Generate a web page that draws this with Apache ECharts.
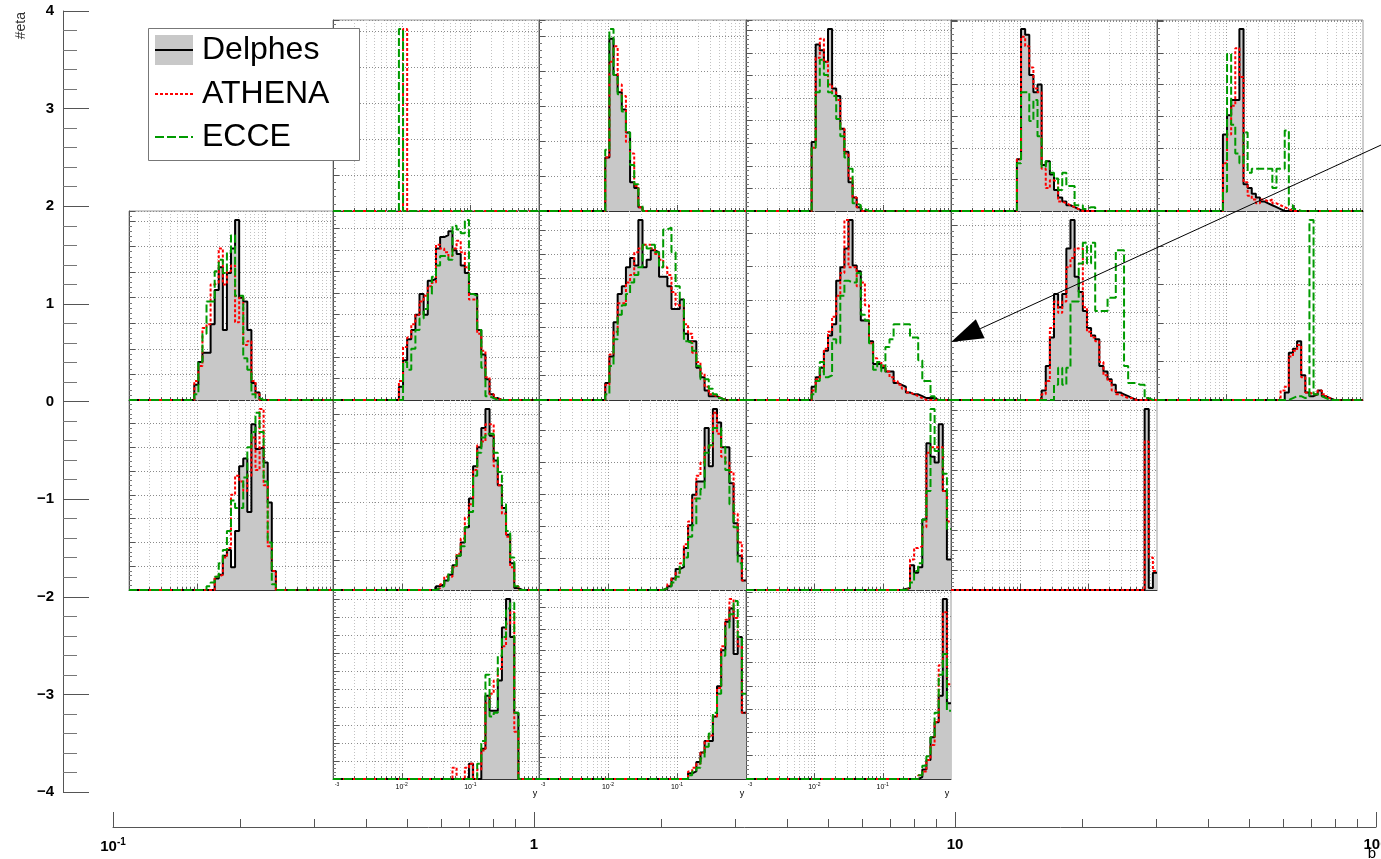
<!DOCTYPE html>
<html>
<head>
<meta charset="utf-8">
<script src="https://cdn.jsdelivr.net/npm/echarts@6/dist/echarts.min.js"></script>
<style>
  html, body { margin: 0; padding: 0; background: #fff; }
  #c { width: 1381px; height: 859px; }
</style>
</head>
<body>
<div id="c"></div>
<script>
// ---------------- data ----------------
// outer axes
const etaTicks = [-4, -3, -2, -1, 0, 1, 2, 3, 4];
const bRange = [0.1, 100];

// one small histogram pad per (eta row, b column)
const panelRow = [0, 0, 0, 0, 0, 1, 1, 1, 1, 1, 1, 2, 2, 2, 2, 2, 3, 3, 3];
const panelCol = [1, 2, 3, 4, 5, 0, 1, 2, 3, 4, 5, 0, 1, 2, 3, 4, 1, 2, 3];

// y histograms: 50 log bins from 1e-3 to 1, first filled bin + contents
const delphesStart = [0, 16, 16, 16, 16, 16, 16, 16, 16, 22, 31, 21, 25, 30, 38, 47, 33, 36, 42];
const delphesBins = [
  [],
  [28, 90, 71, 62, 53, 41, 15, 12, 2],
  [36, 87, 84, 78, 95, 64, 60, 43, 31, 15, 7, 2],
  [27, 95, 92, 71, 62, 66, 24, 26, 19, 11, 7, 5, 3, 2, 1],
  [40, 50, 58, 58, 95, 14, 12, 9, 7, 5, 4, 3, 2, 1],
  [8, 20, 25, 25, 40, 58, 70, 37, 67, 80, 95, 54, 52, 37, 9, 4],
  [7, 21, 32, 37, 45, 56, 45, 63, 64, 80, 86, 87, 89, 79, 77, 71, 67, 56, 56, 37, 24, 11, 3, 1],
  [9, 23, 41, 56, 60, 70, 75, 71, 95, 70, 74, 79, 78, 65, 65, 60, 48, 48, 53, 35, 31, 31, 17, 12, 5, 2, 2, 1],
  [7, 12, 17, 26, 34, 40, 63, 70, 80, 95, 71, 68, 42, 42, 31, 19, 19, 17, 15, 15, 9, 8, 7, 4, 3, 3, 2, 1, 1, 1],
  [5, 18, 33, 56, 49, 56, 80, 95, 65, 57, 47, 38, 34, 32, 18, 15, 11, 8, 4, 3, 2, 1],
  [4, 25, 27, 31, 13, 4, 2, 3, 5, 2, 1],
  [6, 8, 18, 21, 12, 31, 65, 69, 41, 87, 74, 75, 67, 46, 10],
  [2, 3, 5, 8, 13, 18, 25, 33, 48, 65, 75, 85, 95, 81, 68, 55, 43, 29, 14, 1],
  [0.5, 2, 6, 11, 12, 22, 34, 50, 57, 57, 85, 65, 95, 88, 75, 75, 56, 35, 18, 5],
  [0.5, 1, 13, 9, 12, 37, 77, 70, 67, 87, 52, 16],
  [95, 1, 9],
  [8, 0, 0, 16, 44, 36, 36, 52, 80, 95, 75, 35],
  [3, 4, 9, 14, 20, 20, 33, 49, 68, 83, 90, 66, 75, 35],
  [1, 5, 10, 22, 30, 44, 95, 40]
];

const athenaStart = [17, 16, 16, 16, 16, 16, 16, 16, 16, 22, 30, 21, 25, 30, 39, 47, 29, 36, 42];
const athenaBins = [
  [95],
  [28, 78, 86, 66, 60, 36, 30, 13, 2],
  [33, 80, 90, 78, 66, 62, 58, 43, 30, 17, 7, 2],
  [27, 91, 86, 75, 64, 62, 22, 12, 16, 15, 5, 4, 3, 2, 1],
  [25, 40, 55, 85, 70, 15, 8, 6, 4, 6, 5, 6, 4, 3, 2, 1],
  [10, 18, 38, 40, 61, 62, 80, 61, 68, 71, 41, 54, 29, 31, 10, 3],
  [10, 28, 33, 40, 45, 52, 55, 60, 62, 82, 80, 78, 76, 80, 84, 78, 70, 53, 53, 35, 26, 12, 3, 1],
  [8, 24, 36, 51, 51, 62, 66, 78, 80, 82, 82, 80, 77, 74, 70, 66, 57, 50, 50, 40, 35, 25, 20, 14, 7, 3, 2, 1],
  [5, 11, 15, 27, 36, 44, 55, 67, 95, 70, 70, 60, 62, 50, 30, 22, 20, 18, 15, 12, 10, 8, 6, 4, 3, 2, 1],
  [3, 10, 38, 52, 46, 52, 70, 75, 80, 80, 49, 36, 33, 31, 20, 13, 10, 5, 3, 2, 1, 1],
  [5, 7, 23, 26, 29, 12, 4, 3, 3, 5, 3, 1],
  [7, 8, 17, 22, 50, 60, 57, 52, 60, 80, 63, 95, 55, 23, 10],
  [1, 3, 7, 7, 12, 19, 27, 38, 45, 63, 76, 78, 87, 87, 65, 55, 40, 28, 12, 2],
  [1, 3, 6, 9, 14, 24, 36, 48, 60, 67, 75, 75, 93, 82, 70, 67, 62, 40, 25, 5],
  [1, 16, 22, 23, 33, 72, 75, 75, 75, 52, 36],
  [78, 17, 10],
  [6, 0, 0, 6, 8, 0, 5, 15, 40, 45, 52, 58, 70, 82, 88, 25],
  [4, 6, 8, 14, 20, 23, 33, 48, 70, 84, 95, 85, 70, 35],
  [2, 4, 10, 18, 30, 60, 88, 50]
];

const ecceStart = [16, 16, 16, 16, 16, 16, 16, 16, 16, 25, 32, 19, 25, 30, 39, 0, 35, 36, 42];
const ecceBins = [
  [95],
  [32, 95, 71, 61, 52, 41, 24, 14, 3],
  [33, 62, 79, 71, 62, 60, 48, 39, 28, 22, 4, 3, 1],
  [25, 62, 62, 47, 58, 39, 23, 26, 20, 17, 11, 20, 13, 13, 3, 3, 1, 2, 2],
  [10, 82, 45, 30, 25, 41, 20, 22, 22, 22, 22, 22, 12, 22, 22, 42, 3, 1],
  [3, 20, 35, 52, 52, 68, 74, 67, 78, 87, 55, 55, 22, 16, 3, 1],
  [0, 20, 16, 27, 37, 43, 48, 56, 65, 71, 76, 76, 74, 92, 90, 88, 95, 56, 55, 37, 17, 2, 1],
  [3, 18, 32, 45, 50, 56, 62, 66, 70, 82, 80, 82, 78, 70, 90, 91, 78, 60, 53, 31, 30, 26, 18, 11, 11, 6, 3, 1],
  [3, 10, 20, 12, 13, 32, 30, 55, 63, 62, 62, 67, 45, 42, 30, 16, 20, 15, 28, 32, 40, 40, 40, 40, 33, 33, 21, 10, 10, 2],
  [8, 17, 8, 17, 52, 52, 72, 83, 72, 83, 47, 47, 47, 54, 54, 79, 79, 18, 9, 9, 8, 8, 1],
  [1, 2, 2, 1, 2, 95, 3, 2, 1],
  [2, 4, 7, 14, 21, 31, 47, 43, 43, 59, 75, 83, 93, 83, 57, 25, 3],
  [1, 2, 5, 9, 13, 18, 23, 33, 41, 60, 72, 80, 82, 82, 72, 62, 45, 31, 17, 2],
  [1, 2, 4, 7, 13, 17, 28, 34, 48, 53, 72, 76, 85, 85, 75, 63, 45, 33, 14, 11],
  [1, 4, 10, 14, 37, 52, 95, 73, 74, 61, 32],
  [],
  [8, 20, 55, 33, 35, 65, 75, 90, 93, 35],
  [2, 4, 6, 11, 17, 24, 35, 45, 65, 80, 87, 94, 75, 45],
  [2, 7, 12, 22, 35, 55, 66, 36]
];

// major y step of each pad (same units as the bin contents)
const yStep = [18.8, 18.3, 11.8, 16.5, 16.5, 13.5, 11.3, 12.8, 17.6, 15.4, 20.3, 12.5, 15.4, 16.8, 17.5, 10.5, 9.5, 11.3, 12.3];

// arrow annotation in (b, eta): tail, then tip
const arrowFrom = [102.8, 2.627];
const arrowTo = [9.79, 0.609];

// ---------------- layout ----------------
const colEdges = [129, 333, 539, 746, 951, 1157, 1363];
const rowEdges = [20, 211, 400, 590, 779];
const FONT = '"Liberation Sans", Arial, Helvetica, sans-serif';
const NBINS = 50;
const binEdge = k => Math.pow(10, -3 + 3 * k / NBINS);

// step outline of a histogram, walked bin by bin
function histPoints(first, vals) {
  if (!vals.length) return [];
  const full = new Array(NBINS).fill(0);
  vals.forEach((v, i) => { full[first + i] = v; });
  const pts = [];
  for (let k = 0; k < NBINS; k++) {
    pts.push([binEdge(k), full[k]]);
    pts.push([binEdge(k + 1), full[k]]);
  }
  return pts;
}

// 1..9 x decade positions of a log axis
function logSteps(lo, hi) {
  const out = [];
  for (let e = Math.round(Math.log10(lo)); e < Math.round(Math.log10(hi)); e++) {
    for (let m = 1; m <= 9; m++) {
      const v = m * Math.pow(10, e);
      if (v > lo * 1.0001 && v < hi * 0.9999) out.push([v, m === 1 ? 1 : 0]);
    }
  }
  return out;
}
const padGridValues = logSteps(0.001, 1);
const bMinorValues = logSteps(0.1, 100).filter(d => d[1] === 0);

const crisp = v => Math.round(v) + 0.5;

function padGridItem(params, api) {
  const p = api.coord([api.value(0), 0]);
  const cs = params.coordSys;
  const x = crisp(p[0]);
  const major = api.value(1) === 1;
  return {
    type: 'group',
    children: [
      { type: 'line', shape: { x1: x, y1: cs.y, x2: x, y2: cs.y + cs.height },
        style: { stroke: major ? '#9a9a9a' : '#c2c2c2', lineWidth: 1, lineDash: [1, 2] } },
      { type: 'line', shape: { x1: x, y1: cs.y + cs.height, x2: x, y2: cs.y + cs.height - (major ? 6 : 3) },
        style: { stroke: '#555', lineWidth: 1 } }
    ]
  };
}

function bMinorTick(params, api) {
  const p = api.coord([api.value(0), 0]);
  const x = crisp(p[0]);
  return { type: 'line', shape: { x1: x, y1: p[1], x2: x, y2: p[1] - 8 },
    style: { stroke: '#555', lineWidth: 1 } };
}

// line with a filled triangular head at the tip
function arrowItem(params, api) {
  const a = api.coord([api.value(0), api.value(1)]);
  const b = api.coord([api.value(2), api.value(3)]);
  const dx = b[0] - a[0], dy = b[1] - a[1];
  const len = Math.sqrt(dx * dx + dy * dy);
  const ux = dx / len, uy = dy / len;
  const headLen = 32, headHalf = 10.5;
  const bx = b[0] - ux * headLen, by = b[1] - uy * headLen;
  return {
    type: 'group',
    children: [
      { type: 'line', shape: { x1: a[0], y1: a[1], x2: bx, y2: by }, style: { stroke: '#000', lineWidth: 1 } },
      { type: 'polygon', shape: { points: [[b[0], b[1]], [bx - uy * headHalf, by + ux * headHalf], [bx + uy * headHalf, by - ux * headHalf]] },
        style: { fill: '#000' } }
    ]
  };
}

const grids = [], xAxes = [], yAxes = [], series = [];

// outer frame: eta axis on the left, b coordinates for the arrow
grids.push({ left: 113, right: 5, top: 11, bottom: 67, show: false, outerBoundsMode: 'none' });
xAxes.push({ gridIndex: 0, type: 'log', logBase: 10, min: bRange[0], max: bRange[1], show: false });
yAxes.push({
  gridIndex: 0, type: 'value', min: etaTicks[0], max: etaTicks[etaTicks.length - 1], interval: 1,
  offset: 50,
  axisLine: { show: true, lineStyle: { color: '#555', width: 1 } },
  axisTick: { show: true, inside: true, length: 26, lineStyle: { color: '#555' } },
  minorTick: { show: true, splitNumber: 5, length: 14, lineStyle: { color: '#777' } },
  splitLine: { show: false },
  axisLabel: { margin: 9, fontSize: 15, fontWeight: 'bold', color: '#000', fontFamily: FONT,
    formatter: v => String(v).replace('-', '\u2212') }
});

// b axis along the bottom
grids.push({ left: 113, right: 5, top: 812, height: 15, show: false, outerBoundsMode: 'none' });
xAxes.push({
  gridIndex: 1, type: 'log', logBase: 10, min: bRange[0], max: bRange[1], position: 'bottom',
  axisLine: { show: true, lineStyle: { color: '#555', width: 1 } },
  axisTick: { show: true, inside: true, length: 15, lineStyle: { color: '#555' } },
  splitLine: { show: false },
  axisLabel: {
    margin: 10, color: '#000', fontFamily: FONT, fontSize: 15, fontWeight: 'bold',
    formatter: v => (v < 0.5 ? '{n|10}{s|-1}' : String(Math.round(v))),
    rich: {
      n: { fontSize: 15, fontWeight: 'bold', fontFamily: FONT, color: '#000' },
      s: { fontSize: 10, fontWeight: 'bold', fontFamily: FONT, color: '#000', padding: [0, 0, 10, 0] }
    }
  }
});
yAxes.push({ gridIndex: 1, type: 'value', min: 0, max: 1, show: false });
series.push({ type: 'custom', xAxisIndex: 1, yAxisIndex: 1, data: bMinorValues, renderItem: bMinorTick,
  silent: true, animation: false, z: 3 });

// the pads
panelRow.forEach((r, i) => {
  const c = panelCol[i];
  grids.push({
    left: colEdges[c], top: rowEdges[r],
    width: colEdges[c + 1] - colEdges[c], height: rowEdges[r + 1] - rowEdges[r],
    show: true, backgroundColor: '#fff', borderColor: '#9a9a9a', borderWidth: 1, outerBoundsMode: 'none'
  });
  const gi = grids.length - 1;
  const bottom = r === 3;
  xAxes.push({
    gridIndex: gi, type: 'log', logBase: 10, min: 0.001, max: 1,
    axisLine: { show: true, onZero: false, lineStyle: { color: '#333', width: 1 } },
    axisTick: { show: false },
    splitLine: { show: false },
    axisLabel: bottom ? {
      show: true, margin: 3, showMinLabel: true, showMaxLabel: false, color: '#000',
      formatter: v => {
        const e = Math.round(Math.log10(v));
        if (e === 0) return '';
        if (e === -3) return '{l|-3}';
        return '{n|10}{s|' + e + '}';
      },
      rich: {
        n: { fontSize: 7, fontFamily: FONT, color: '#000' },
        s: { fontSize: 5, fontFamily: FONT, color: '#000', padding: [0, 0, 5, 0] },
        l: { fontSize: 5, fontFamily: FONT, color: '#000', padding: [0, 0, 5, 8] }
      }
    } : { show: false },
    name: bottom ? 'y' : '', nameLocation: 'end', nameGap: -4,
    nameTextStyle: { fontSize: 9, fontFamily: FONT, color: '#000', align: 'center', verticalAlign: 'top', padding: [10, 0, 0, 0] }
  });
  yAxes.push({
    gridIndex: gi, type: 'value', min: 0, max: v => v.max * 1.05, interval: yStep[i],
    axisLine: { show: true, lineStyle: { color: '#555', width: 1 } },
    axisTick: { show: true, inside: true, length: 6, lineStyle: { color: '#555' } },
    minorTick: { show: true, splitNumber: 5, length: 3, lineStyle: { color: '#777' } },
    axisLabel: { show: false },
    splitLine: { show: true, lineStyle: { color: '#8a8a8a', width: 1, type: [1, 2] } }
  });
  series.push({ type: 'custom', xAxisIndex: gi, yAxisIndex: gi, data: padGridValues, renderItem: padGridItem,
    silent: true, animation: false, z: 1 });

  const base = { type: 'line', xAxisIndex: gi, yAxisIndex: gi, symbol: 'none', showSymbol: false,
    silent: true, animation: false, clip: true };
  const dData = histPoints(delphesStart[i], delphesBins[i]);
  if (dData.length) series.push(Object.assign({}, base, {
    name: 'Delphes', data: dData, z: 3,
    lineStyle: { color: '#000', width: 2 },
    areaStyle: { color: '#c8c8c8', opacity: 1, origin: 'start' }
  }));
  const aData = histPoints(athenaStart[i], athenaBins[i]);
  if (aData.length) series.push(Object.assign({}, base, {
    name: 'ATHENA', data: aData, z: 4,
    lineStyle: { color: '#ff0000', width: 2, type: [3, 2] }
  }));
  const eData = histPoints(ecceStart[i], ecceBins[i]);
  if (eData.length) series.push(Object.assign({}, base, {
    name: 'ECCE', data: eData, z: 5,
    lineStyle: { color: '#009a00', width: 2, type: [8, 3] }
  }));
});

// arrow drawn in (b, eta) coordinates
series.push({
  type: 'custom', xAxisIndex: 0, yAxisIndex: 0, clip: false, silent: true, animation: false, z: 20,
  data: [[arrowFrom[0], arrowFrom[1], arrowTo[0], arrowTo[1]]],
  encode: { x: [0, 2], y: [1, 3] },
  renderItem: arrowItem
});

const legendItems = [
  { label: 'Delphes', y: 22 },
  { label: 'ATHENA', y: 66 },
  { label: 'ECCE', y: 109 }
];

const option = {
  backgroundColor: '#fff',
  animation: false,
  grid: grids,
  xAxis: xAxes,
  yAxis: yAxes,
  series: series,
  graphic: [
    {
      type: 'text', x: 21, y: 12, rotation: Math.PI / 2, z: 100,
      style: { text: '#eta', font: '14px ' + FONT, fill: '#333',
        textAlign: 'right', textVerticalAlign: 'middle', align: 'right', verticalAlign: 'middle' }
    },
    {
      type: 'text', x: 1372, y: 846, z: 100,
      style: { text: 'b', font: '15px ' + FONT, fill: '#000',
        textAlign: 'center', textVerticalAlign: 'top', align: 'center', verticalAlign: 'top' }
    },
    {
      type: 'group', x: 148, y: 28, z: 100,
      children: [
        { type: 'rect', z: 100, shape: { x: 0.5, y: 0.5, width: 211, height: 132 },
          style: { fill: '#fff', stroke: '#777', lineWidth: 1 } },
        { type: 'rect', z: 101, shape: { x: 7, y: 7, width: 38, height: 30 }, style: { fill: '#c8c8c8' } },
        { type: 'line', z: 102, shape: { x1: 7, y1: legendItems[0].y, x2: 45, y2: legendItems[0].y },
          style: { stroke: '#000', lineWidth: 2 } },
        { type: 'line', z: 102, shape: { x1: 7, y1: legendItems[1].y, x2: 45, y2: legendItems[1].y },
          style: { stroke: '#ff0000', lineWidth: 2, lineDash: [3, 2] } },
        { type: 'line', z: 102, shape: { x1: 7, y1: legendItems[2].y, x2: 45, y2: legendItems[2].y },
          style: { stroke: '#009a00', lineWidth: 2, lineDash: [9, 3] } }
      ].concat(legendItems.map(it => ({
        type: 'text', z: 102, x: 54, y: it.y,
        style: { text: it.label, font: '32px ' + FONT, fill: '#000',
          textAlign: 'left', textVerticalAlign: 'middle', align: 'left', verticalAlign: 'middle' }
      })))
    }
  ]
};

const chart = echarts.init(document.getElementById('c'), null, { renderer: 'canvas', width: 1381, height: 859 });
chart.setOption(option);
</script>
</body>
</html>
